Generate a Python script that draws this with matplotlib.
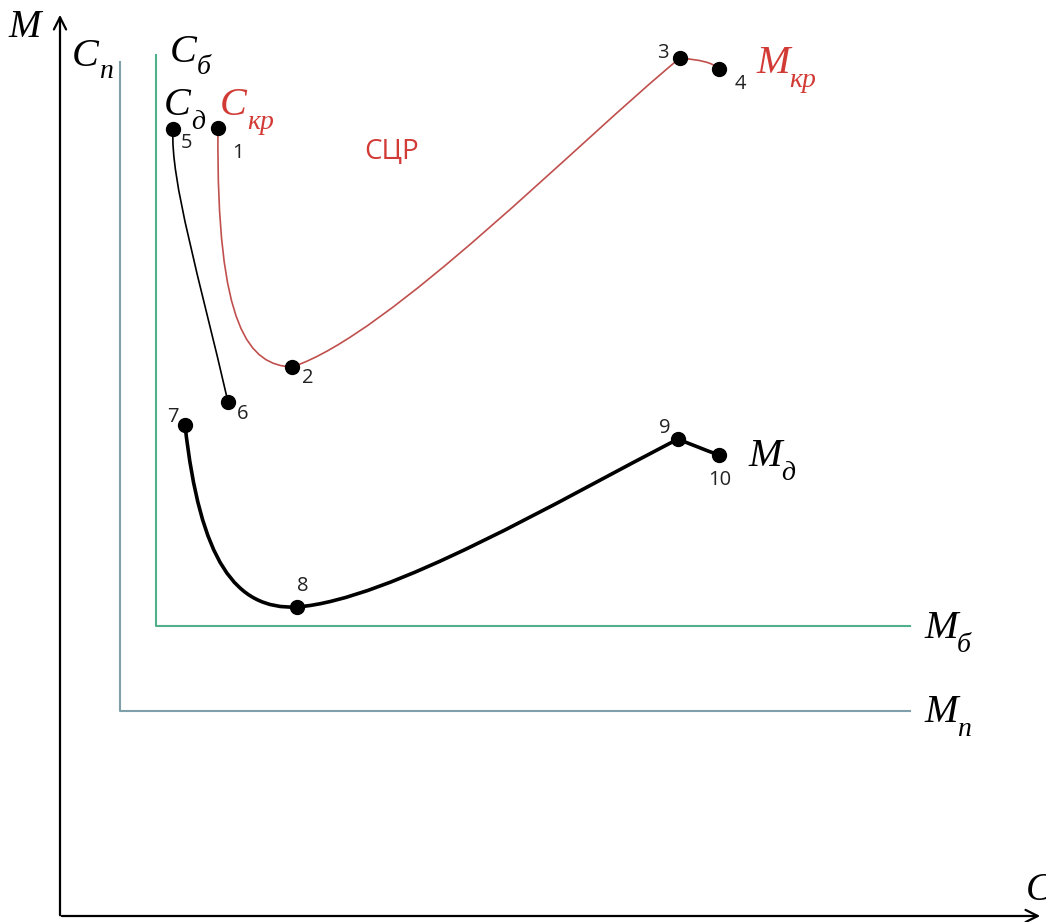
import matplotlib.pyplot as plt
from matplotlib.path import Path
from matplotlib.patches import PathPatch

# schematic coordinates (pixel-like units, y grows downward)
# limit lines: corner point and end points
cp_line = [(120, 62), (120, 711), (910, 711)]
cb_line = [(156, 55), (156, 626), (910, 626)]

# red curve C_kr / M_kr: points 1..4 and Bezier control points
red_pts = [(218, 128), (292, 367), (680, 58), (719, 69)]
red_ctrl = [
    [(218, 128), (216, 330), (250, 365), (292, 367)],
    [(292, 367), (390, 335), (580, 140), (680, 58)],
    [(680, 58), (700, 60), (712, 62), (719, 69)],
]

# thin black curve C_d: points 5, 6
thin_pts = [(173, 129), (228, 402)]
thin_ctrl = [[(173, 129), (170, 180), (200, 280), (228, 402)]]

# thick black curve M_d: points 7..10
thick_pts = [(185, 425), (297, 607), (678, 439), (719, 455)]
thick_ctrl = [
    [(185, 425), (200, 560), (235, 610), (297, 607)],
    [(297, 607), (390, 600), (560, 500), (678, 439)],
    [(678, 439), (690, 444), (705, 450), (719, 455)],
]

num_labels = ['1', '2', '3', '4', '5', '6', '7', '8', '9', '10']
num_pos = [(238, 153), (308, 378), (663, 53), (740, 84), (186, 143),
           (243, 414), (173, 417), (303, 586), (665, 428), (720, 480)]

red = '#c0504d'
red_txt = '#d23a35'
green = '#4fb08a'
gray = '#7f9fab'

fig = plt.figure(figsize=(10.46, 9.22), dpi=100)
ax = fig.add_axes([0, 0, 1, 1])
ax.set_xlim(0, 1046)
ax.set_ylim(922, 0)
ax.axis('off')

# main axes with arrows
ax.annotate('', xy=(60, 12), xytext=(60, 918),
            arrowprops=dict(arrowstyle='->', lw=1.6, color='black', mutation_scale=22))
ax.annotate('', xy=(1043, 916), xytext=(59, 916),
            arrowprops=dict(arrowstyle='->', lw=1.6, color='black', mutation_scale=22))

xs, ys = zip(*cp_line)
ax.plot(xs, ys, color=gray, lw=1.5)
xs, ys = zip(*cb_line)
ax.plot(xs, ys, color=green, lw=1.5)


def bezier(ctrl_list, color, lw):
    for c in ctrl_list:
        path = Path(c, [Path.MOVETO, Path.CURVE4, Path.CURVE4, Path.CURVE4])
        ax.add_patch(PathPatch(path, fc='none', ec=color, lw=lw))


bezier(red_ctrl, red, 1.2)
bezier(thin_ctrl, 'black', 1.2)
bezier(thick_ctrl, 'black', 2.6)

for pts in (red_pts, thin_pts, thick_pts):
    xs, ys = zip(*pts)
    ax.scatter(xs, ys, s=100, color='black', zorder=5)

for lab, (x, y) in zip(num_labels, num_pos):
    ax.text(x, y, lab, fontsize=14.5, family='Open Sans', ha='center', va='center', color='#222222')

serif = dict(family='Liberation Serif', style='italic')


def sym(x, y, main, sub, color='black', size=29, subsize=20, dx=22, dy=14):
    ax.text(x, y, main, fontsize=size, color=color, ha='left', va='baseline', **serif)
    if sub:
        ax.text(x + dx, y + dy, sub, fontsize=subsize, color=color, ha='left', va='baseline', **serif)


sym(8, 37, 'M', None, size=28)
sym(72, 66, 'C', 'п', dx=27, dy=12)
sym(170, 62, 'C', 'б', dx=27, dy=12)
sym(164, 115, 'C', 'д', dx=27, dy=14)
sym(220, 115, 'C', 'кр', color=red_txt, dx=27, dy=14)
sym(756, 73, 'M', 'кр', color=red_txt, dx=33, dy=14)
sym(748, 466, 'M', 'д', dx=33, dy=14)
sym(924, 638, 'M', 'б', dx=33, dy=14)
sym(924, 722, 'M', 'п', dx=33, dy=14)
sym(1026, 900, 'C', None, size=28)

ax.text(392, 152, 'СЦР', fontsize=20, family='Open Sans', color=red_txt, ha='center', va='center')

fig.savefig('out.png', dpi=100)
